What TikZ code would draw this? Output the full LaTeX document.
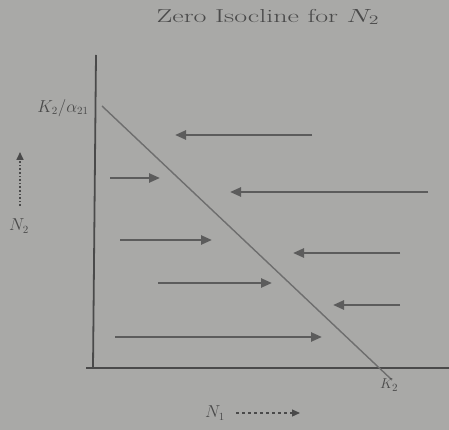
\documentclass[tikz,border=0pt]{standalone}
\usetikzlibrary{arrows.meta}
\definecolor{bg}{HTML}{A9A9A7}
\definecolor{ink}{HTML}{4A4A4A}
\definecolor{lineink}{HTML}{5C5C5C}
\definecolor{diag}{HTML}{6E6E6E}
\begin{document}
\begin{tikzpicture}[x=1pt,y=-1pt,
  flow/.style={draw=lineink,line width=2.4pt,-{Triangle[length=11pt,width=9pt]}},
  axis/.style={draw=ink,line width=1.8pt},
  lbl/.style={text=ink,inner sep=0pt}]
\fill[bg] (0,0) rectangle (449,430);
\useasboundingbox (0,0) rectangle (449,430);
% title
\node[lbl,font=\fontsize{17}{20}\selectfont] (title) at (268,17) {\scalebox{1.65}[1.1]{Zero Isocline for $N_2$}};
% axes
\coordinate (ytop) at (96,55);
\coordinate (origin) at (93,368);
\coordinate (xend) at (449,368);
\coordinate (xstart) at (86,368);
\draw[axis] (ytop) -- (origin);
\draw[axis] (xstart) -- (xend);
% isocline
\coordinate (d1) at (102,106);
\coordinate (d2) at (392,380);
\draw[diag,line width=1.4pt] (d1) -- (d2);
% labels
\node[lbl,font=\fontsize{16}{18}\selectfont] (k21) at (63,108) {$K_2/\alpha_{21}$};
\node[lbl,font=\fontsize{15}{17}\selectfont] (k2) at (389,385) {$K_2$};
\node[lbl,font=\fontsize{16}{18}\selectfont] (n2) at (19,226) {$N_2$};
\coordinate (n2a) at (20,206);
\coordinate (n2b) at (20,152);
\draw[ink,line width=1.6pt,dotted,-{Triangle[length=8pt,width=7pt]}] (n2a) -- (n2b);
\node[lbl,font=\fontsize{16}{18}\selectfont] (n1) at (215,413) {$N_1$};
\coordinate (n1a) at (236,413);
\coordinate (n1b) at (300,413);
\draw[ink,line width=1.2pt,dashed,-{Triangle[length=8pt,width=7pt]}] (n1a) -- (n1b);
% arrows
\coordinate (a1s) at (312,135); \coordinate (a1e) at (175,135);
\coordinate (a2s) at (110,178); \coordinate (a2e) at (160,178);
\coordinate (a3s) at (428,192); \coordinate (a3e) at (230,192);
\coordinate (a4s) at (120,240); \coordinate (a4e) at (212,240);
\coordinate (a5s) at (400,253); \coordinate (a5e) at (293,253);
\coordinate (a6s) at (158,283); \coordinate (a6e) at (272,283);
\coordinate (a7s) at (400,305); \coordinate (a7e) at (333,305);
\coordinate (a8s) at (115,337); \coordinate (a8e) at (322,337);
\draw[flow] (a1s) -- (a1e);
\draw[flow] (a2s) -- (a2e);
\draw[flow] (a3s) -- (a3e);
\draw[flow] (a4s) -- (a4e);
\draw[flow] (a5s) -- (a5e);
\draw[flow] (a6s) -- (a6e);
\draw[flow] (a7s) -- (a7e);
\draw[flow] (a8s) -- (a8e);
\end{tikzpicture}
\end{document}
